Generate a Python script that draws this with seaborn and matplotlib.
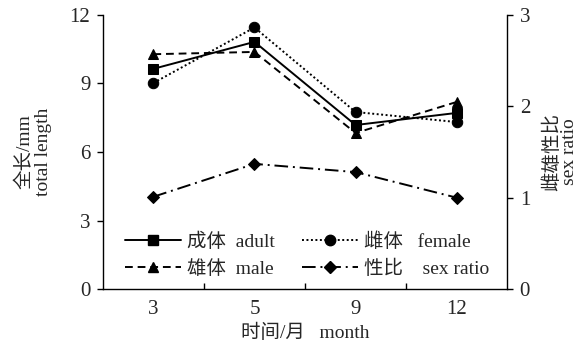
import matplotlib
matplotlib.use("Agg")
import matplotlib.pyplot as plt
import seaborn as sns
import pandas as pd
from matplotlib.lines import Line2D

months = ["3", "5", "9", "12"]
adult = [9.64, 10.82, 7.18, 7.71]
female = [9.02, 11.45, 7.75, 7.31]
male = [10.28, 10.38, 6.83, 8.19]
sex_ratio = [1.01, 1.37, 1.28, 1.00]

left_ticks = [0, 3, 6, 9, 12]
right_ticks = [0, 1, 2, 3]

sns.set_theme(style="ticks")
plt.rcParams["font.family"] = ["Liberation Serif", "Noto Sans CJK SC"]
plt.rcParams["axes.unicode_minus"] = False

fig = plt.figure(figsize=(5.81, 3.47), dpi=100)
ax = fig.add_axes([0.177, 0.167, 0.696, 0.790])
ax2 = ax.twinx()

df = pd.DataFrame({"month": months, "adult": adult, "female": female,
                   "male": male, "ratio": sex_ratio})

lw = 1.4
ls_adult = "-"
ls_male = (0, (4, 2.5))
ls_female = (0, (1, 1.3))
ls_ratio = (0, (7, 2.5, 1, 2.5))
kw = dict(color="black", lw=lw, mec="black", mfc="black")

sns.lineplot(data=df, x="month", y="adult", ax=ax, marker="s", ms=7, linestyle=ls_adult, **kw)
sns.lineplot(data=df, x="month", y="male", ax=ax, marker="^", ms=7.5, linestyle=ls_male, **kw)
sns.lineplot(data=df, x="month", y="female", ax=ax, marker="o", ms=7.5, linestyle=ls_female, **kw)
sns.lineplot(data=df, x="month", y="ratio", ax=ax2, marker="D", ms=6.5, linestyle=ls_ratio, **kw)

fs = 14
fs_tick = 15
ax.set_xlim(-0.5, 3.5)
ax.set_ylim(0, 12)
ax2.set_ylim(0, 3)
ax.set_yticks(left_ticks)
ax.set_yticklabels([str(t) for t in left_ticks], fontsize=fs_tick)
ax2.set_yticks(right_ticks)
ax2.set_yticklabels([str(t) for t in right_ticks], fontsize=fs_tick)

ax.set_xticks(range(len(months)))
ax.set_xticklabels(months, fontsize=fs_tick)
ax.tick_params(axis="x", which="major", length=0, pad=8)
ax.set_xticks([0.5, 1.5, 2.5], minor=True)
ax.tick_params(axis="x", which="minor", direction="in", length=4, width=1, color="black")
ax.tick_params(axis="y", direction="out", length=4, width=1, color="black", pad=5)
ax2.tick_params(axis="y", direction="out", length=4, width=1, color="black", pad=5)

for a in (ax, ax2):
    a.spines["top"].set_visible(False)
    for s in ("left", "right", "bottom"):
        a.spines[s].set_color("black")
        a.spines[s].set_linewidth(1.0)
ax.spines["right"].set_visible(False)
ax2.spines["left"].set_visible(False)
ax2.spines["bottom"].set_visible(False)

ax.set_xlabel("时间/月   month", fontsize=fs, labelpad=3)
ax.set_ylabel("全长/mm\ntotal length", fontsize=fs, labelpad=13, linespacing=1.05)
ax2.set_ylabel("雌雄性比\nsex ratio", fontsize=fs, labelpad=9, linespacing=1.0)

handles = [
    Line2D([], [], color="black", lw=lw, ls=ls_adult, marker="s", ms=7),
    Line2D([], [], color="black", lw=lw, ls=ls_male, marker="^", ms=7.5),
    Line2D([], [], color="black", lw=lw, ls=ls_female, marker="o", ms=7.5),
    Line2D([], [], color="black", lw=lw, ls=ls_ratio, marker="D", ms=6.5),
]
labels = ["成体  adult", "雄体  male", "雌体   female", "性比    sex ratio"]
ax.legend(handles, labels, ncol=2, frameon=False, fontsize=fs,
          loc="lower left", bbox_to_anchor=(0.02, -0.01), handlelength=2.9,
          handletextpad=0.3, columnspacing=1.4, labelspacing=0.45, borderpad=0.2)

fig.savefig("out.png", dpi=100)
